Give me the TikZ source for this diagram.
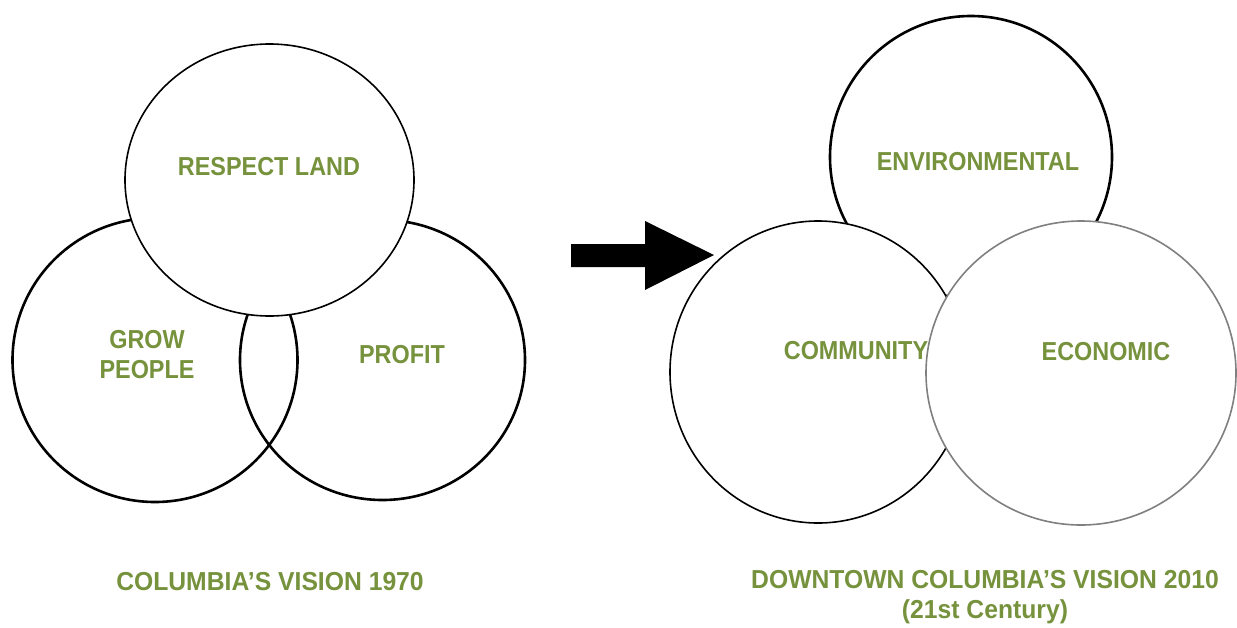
\documentclass[tikz,border=0pt]{standalone}
\usepackage{fontspec}
\setmainfont{Liberation Sans}[FakeStretch=0.9]
\newfontfamily\titlefont{Liberation Sans}[FakeStretch=0.95]
\usetikzlibrary{shapes.geometric}
\definecolor{olive}{HTML}{76923C}
\tikzset{
  ring/.style={draw=black, ellipse, inner sep=0pt, outer sep=0pt},
  thickring/.style={ring, line width=2.6pt},
  thinring/.style={ring, line width=1.6pt, fill=white},
  grayring/.style={ring, draw=black!50, line width=1.6pt, fill=white},
  lbl/.style={text=olive, font=\fontsize{26}{30}\selectfont\bfseries, align=center, inner sep=0pt},
  ttl/.style={lbl, font=\titlefont\fontsize{26}{30}\selectfont\bfseries}
}
\begin{document}
\begin{tikzpicture}[x=1pt,y=-1pt]
\useasboundingbox[fill=white] (0,0) rectangle (1237,627);
% left diagram
\node[thickring, minimum width=285pt, minimum height=284pt] (grow) at (155,360) {};
\node[thickring, minimum width=285pt, minimum height=280pt] (profit) at (382.5,360) {};
\node[thinring, minimum width=289pt, minimum height=272pt] (land) at (269.5,180) {};
% arrow
\fill[black] (571,244) -- (645,244) -- (645,221) -- (714,255) -- (645,290) -- (645,267) -- (571,267) -- cycle;
% right diagram
\node[thickring, minimum width=282pt, minimum height=282pt] (env) at (971,157) {};
\node[thinring, minimum width=296pt, minimum height=302pt] (comm) at (818,372) {};
\node[grayring, minimum width=310pt, minimum height=304pt] (econ) at (1081,373) {};
% labels
\node[lbl] (tland) at (269,167) {RESPECT LAND};
\node[lbl] (tgrow) at (147,355) {GROW\\PEOPLE};
\node[lbl] (tprofit) at (402,355) {PROFIT};
\node[lbl] (tenv) at (978,162) {ENVIRONMENTAL};
\node[lbl] (tcomm) at (856,351) {COMMUNITY};
\node[lbl] (tecon) at (1106,352) {ECONOMIC};
\node[ttl] (t1970) at (270,582) {COLUMBIA’S VISION 1970};
\node[ttl] (t2010) at (985,597) {DOWNTOWN COLUMBIA’S VISION 2010\\(21st Century)};
\end{tikzpicture}
\end{document}
